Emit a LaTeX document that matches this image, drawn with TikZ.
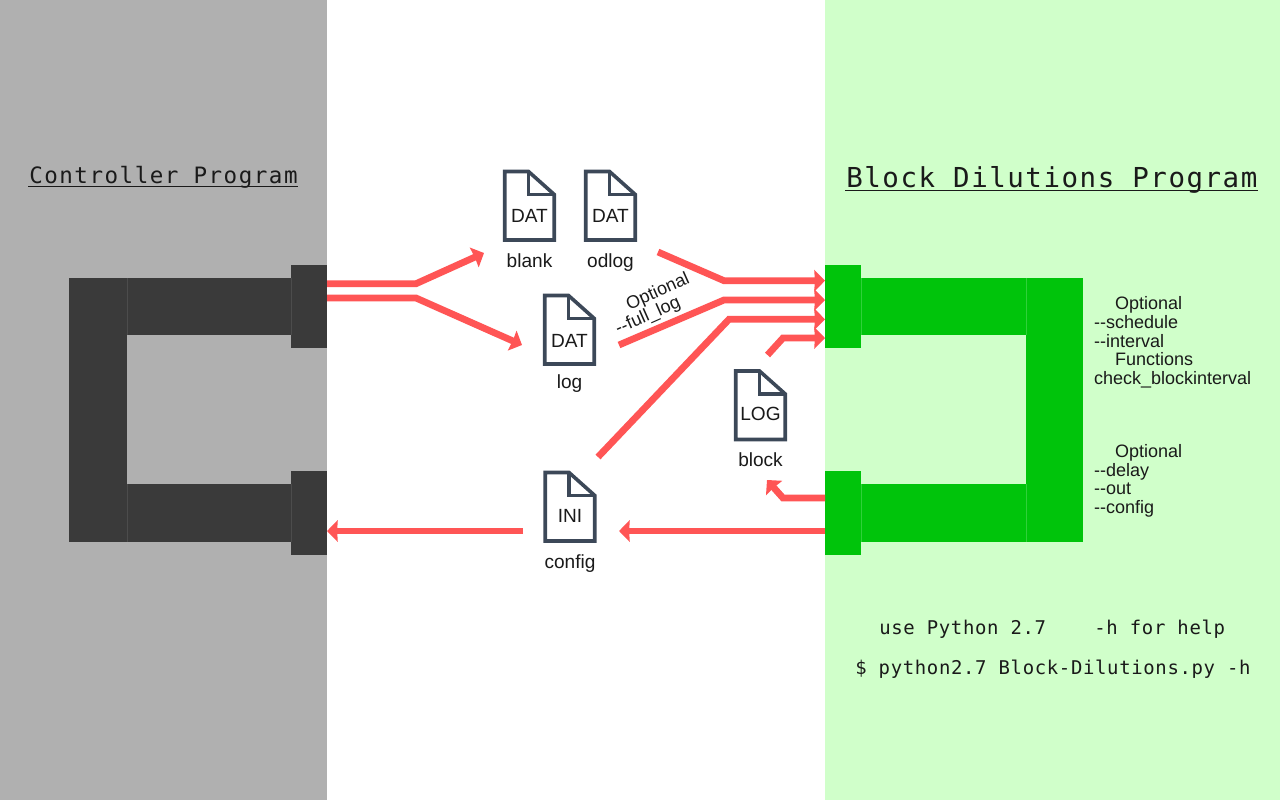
\documentclass[tikz,border=0pt]{standalone}
\usepackage{fontspec}
\setmainfont{Liberation Sans}
\newfontfamily\titlemono[LetterSpace=5.6]{DejaVu Sans Mono}
\newfontfamily\ctrlmono[LetterSpace=6.7]{DejaVu Sans Mono}
\newfontfamily\cmdmono[LetterSpace=3.5]{DejaVu Sans Mono}
\usetikzlibrary{arrows.meta}
\definecolor{greypanel}{HTML}{B0B0B0}
\definecolor{greenpanel}{HTML}{D0FFCA}
\definecolor{darkblock}{HTML}{3A3A3A}
\definecolor{greenblock}{HTML}{00C40B}
\definecolor{flowred}{HTML}{FF5555}
\definecolor{iconink}{HTML}{3C4858}
\definecolor{ink}{HTML}{1A1A1A}
\definecolor{darkseam}{HTML}{4C4C4C}
\definecolor{greenseam}{HTML}{30D03A}
\newcommand\blockrect[6]{\node[#1,minimum width={(#5-#3)*0.75pt},minimum height={(#6-#4)*0.75pt}] (#2) at ({(#3+#5)/2},{(#4+#6)/2}) {};}
\newcommand\fileicon[7]{%
  \node[iconframe] (#1) at (#2,#3) {};
  \draw[iconline] ([xshift=-24.75*0.75pt,yshift=34.5*0.75pt]#1.center) -- ([xshift=-1*0.75pt,yshift=34.5*0.75pt]#1.center) -- ([xshift=24.75*0.75pt,yshift=11.5*0.75pt]#1.center) -- ([xshift=24.75*0.75pt,yshift=-34*0.75pt]#1.center) -- ([xshift=-24.75*0.75pt,yshift=-34*0.75pt]#1.center) -- cycle;
  \draw[iconline] ([xshift=-1*0.75pt,yshift=34.5*0.75pt]#1.center) -- ([xshift=-1*0.75pt,yshift=11.5*0.75pt]#1.center) -- ([xshift=24.75*0.75pt,yshift=11.5*0.75pt]#1.center);
  \node[icontext,anchor=base] (#1ext) at (#2,#3+#6) {#4};
  \node[icontext,anchor=base] (#1label) at (#2,#3+#7) {#5};
}
\tikzset{
  panel/.style={rectangle,draw=none,inner sep=0pt,outer sep=0pt},
  greyfill/.style={panel,fill=greypanel},
  greenfill/.style={panel,fill=greenpanel},
  darkfill/.style={panel,fill=darkblock},
  greenbar/.style={panel,fill=greenblock},
  iconframe/.style={rectangle,draw=none,inner sep=0pt,outer sep=0pt,minimum width=39.75pt,minimum height=54pt},
  iconline/.style={draw=iconink,line width=2.7pt,line join=miter},
  sidetext/.style={inner sep=0pt,outer sep=0pt,text=ink,font=\fontsize{13.5pt}{16pt}\selectfont},
  icontext/.style={inner sep=0pt,outer sep=0pt,text=ink,font=\fontsize{14.3pt}{16pt}\selectfont},
  flow/.style={draw=flowred,line width=5.1pt,line join=miter,-{Stealth[length=8pt,width=16pt,inset=0.4pt]}},
  undl/.style={draw=ink,line width=1pt},
  seam/.style={line width=0.75pt}
}
\begin{document}
\begin{tikzpicture}[x=0.75pt,y=-0.75pt]
\useasboundingbox (0,0) rectangle (1280,800);
\fill[white] (0,0) rectangle (1280,800);
\blockrect{greyfill}{ctrlpanel}{0}{0}{327}{800}
\blockrect{greenfill}{dilpanel}{825}{0}{1280}{800}
% controller block
\blockrect{darkfill}{ctrlspine}{69}{278}{127}{542}
\blockrect{darkfill}{ctrlarmtop}{127}{278}{291}{335}
\blockrect{darkfill}{ctrlarmbot}{127}{484}{291}{542}
\blockrect{darkfill}{ctrlporttop}{291}{265}{327}{348}
\blockrect{darkfill}{ctrlportbot}{291}{471}{327}{555}
\draw[seam,draw=darkseam] (ctrlarmtop.north west) -- (ctrlarmtop.south west);
\draw[seam,draw=darkseam] (ctrlarmbot.north west) -- (ctrlarmbot.south west);
\draw[seam,draw=darkseam] (ctrlarmtop.north east) -- (ctrlarmtop.south east);
\draw[seam,draw=darkseam] (ctrlarmbot.north east) -- (ctrlarmbot.south east);
% dilutions block
\blockrect{greenbar}{dilspine}{1026}{278}{1083}{542}
\blockrect{greenbar}{dilarmtop}{861}{278}{1026}{335}
\blockrect{greenbar}{dilarmbot}{861}{484}{1026}{542}
\blockrect{greenbar}{dilporttop}{825}{265}{861}{348}
\blockrect{greenbar}{dilportbot}{825}{471}{861}{555}
\draw[seam,draw=greenseam] (dilarmtop.north west) -- (dilarmtop.south west);
\draw[seam,draw=greenseam] (dilarmbot.north west) -- (dilarmbot.south west);
\draw[seam,draw=greenseam] (dilarmtop.north east) -- (dilarmtop.south east);
\draw[seam,draw=greenseam] (dilarmbot.north east) -- (dilarmbot.south east);
% titles
\node[anchor=base west,inner sep=0pt,text=ink,font=\ctrlmono\fontsize{16.9pt}{20pt}\selectfont] (ctrltitle) at (29,183.3) {Controller Program};
\draw[undl] (28,186.8) -- (298,186.8);
\node[anchor=base west,inner sep=0pt,text=ink,font=\titlemono\fontsize{20.6pt}{24pt}\selectfont] (diltitle) at (846,187.5) {Block Dilutions Program};
\draw[undl] (845,190.8) -- (1258,190.8);
% files
\fileicon{blank}{529.5}{206}{DAT}{blank}{16}{61.5}
\fileicon{odlog}{610.5}{206}{DAT}{odlog}{16}{61.5}
\fileicon{logfile}{569.5}{330}{DAT}{log}{17}{58}
\fileicon{config}{570}{507}{INI}{config}{15}{61.5}
\fileicon{blockfile}{760.5}{405.5}{LOG}{block}{15}{60.5}
% free ends
\coordinate (blankin) at (484,253);
\coordinate (login) at (522,345);
\coordinate (odlogout) at (658,252);
\coordinate (logout) at (619,345);
\coordinate (configout) at (598,457);
\coordinate (blockout) at (767.5,355);
\coordinate (blockin) at (767,480);
\coordinate (configin) at (619,531);
\coordinate (configback) at (523,531);
% connectors
\draw[flow] (ctrlporttop.east |- 0,283.7) -- (416,283.7) -- (blankin);
\draw[flow] (ctrlporttop.east |- 0,298) -- (416,298) -- (login);
\draw[flow] (odlogout) -- (724,280.7) -- (dilporttop.west |- 0,280.7);
\draw[flow] (logout) -- (724,300) -- (dilporttop.west |- 0,300);
\draw[flow] (configout) -- (729,319.3) -- (dilporttop.west |- 0,319.3);
\draw[flow] (blockout) -- (783,338) -- (dilporttop.west |- 0,338);
\draw[flow] (dilportbot.west |- 0,498) -- (783,498) -- (blockin);
\draw[flow] (dilportbot.west |- 0,531) -- (configin);
\draw[flow] (configback) -- (ctrlportbot.east |- 0,531);
% rotated labels
\node[sidetext,anchor=base,rotate=24] (optlabel) at (660,296.5) {Optional};
\node[sidetext,anchor=base,rotate=24] (fulllabel) at (650,320.5) {-{}-full\_log};
% side notes
\node[sidetext,anchor=base west] (n1) at (1115,309.7) {Optional};
\node[sidetext,anchor=base west] (n2) at (1094,328.4) {-{}-schedule};
\node[sidetext,anchor=base west] (n3) at (1094,347) {-{}-interval};
\node[sidetext,anchor=base west] (n4) at (1115,365.7) {Functions};
\node[sidetext,anchor=base west] (n5) at (1094,384.2) {check\_blockinterval};
\node[sidetext,anchor=base west] (n6) at (1115,457.4) {Optional};
\node[sidetext,anchor=base west] (n7) at (1094,476) {-{}-delay};
\node[sidetext,anchor=base west] (n8) at (1094,494.7) {-{}-out};
\node[sidetext,anchor=base west] (n9) at (1094,513.4) {-{}-config};
% commands
\node[anchor=base west,inner sep=0pt,text=ink,font=\cmdmono\fontsize{14.2pt}{17pt}\selectfont] (cmdone) at (879,634) {use Python 2.7\ \ \ \ -h for help};
\node[anchor=base west,inner sep=0pt,text=ink,font=\cmdmono\fontsize{14.2pt}{17pt}\selectfont] (cmdtwo) at (855,674) {\$ python2.7 Block-Dilutions.py -h};
\end{tikzpicture}
\end{document}
